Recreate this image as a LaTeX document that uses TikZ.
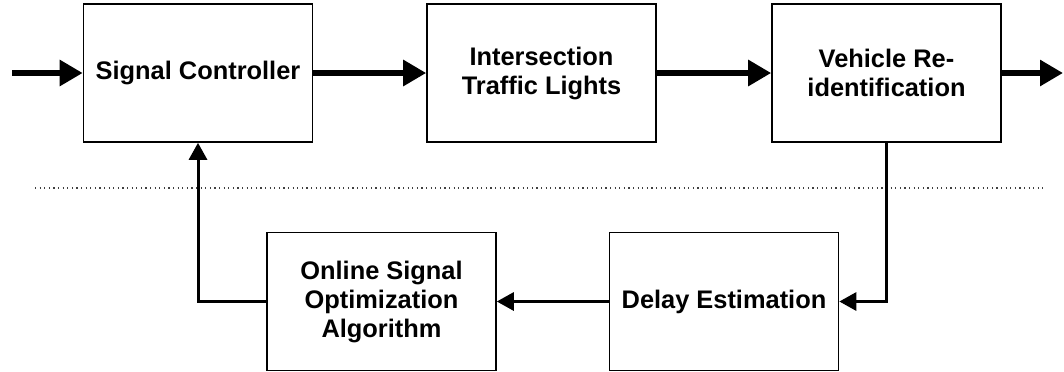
\documentclass[tikz,border=0pt]{standalone}
\usepackage{fontspec}
\setmainfont{Liberation Sans}
\usetikzlibrary{arrows.meta}

\begin{document}
\begin{tikzpicture}[x=0.5pt, y=-0.5pt,
  block/.style={draw, line width=0.8pt, minimum width=114.5pt, minimum height=69pt,
    inner sep=0pt, align=center, font=\fontsize{12.7}{14.5}\selectfont\bfseries},
  mainflow/.style={line width=3pt, -{Triangle[length=11.5pt, width=12.5pt]}},
  backflow/.style={line width=1.5pt, -{Triangle[length=8.5pt, width=9pt]}}]
\useasboundingbox (0, 0) rectangle (1064, 371);
% 分界线
\coordinate (sepL) at (35, 188);
\coordinate (sepR) at (1043, 188);
\draw[line width=0.6pt, dash pattern=on 0.6pt off 1.7pt, black!75] (sepL) -- (sepR);
% 上层
\node[block] (sigctrl) at (198, 73) {Signal Controller};
\node[block] (lights) at (541.5, 73) {Intersection\\Traffic Lights};
\node[block] (reid) at (886.5, 73) {Vehicle Re-\\identification};
% 下层
\node[block] (online) at (381.5, 301.5) {Online Signal\\Optimization\\Algorithm};
\node[block] (delay) at (724, 301.5) {Delay Estimation};
% 箭头
\coordinate (src) at (12, 73);
\coordinate (sink) at (1063, 73);
\draw[mainflow] (src) -- (sigctrl);
\draw[mainflow] (sigctrl) -- (lights);
\draw[mainflow] (lights) -- (reid);
\draw[mainflow] (reid) -- (sink);
\draw[backflow] (reid.south) |- (delay.east);
\draw[backflow] (delay) -- (online);
\draw[backflow] (online.west) -| (sigctrl.south);
\end{tikzpicture}
\end{document}
